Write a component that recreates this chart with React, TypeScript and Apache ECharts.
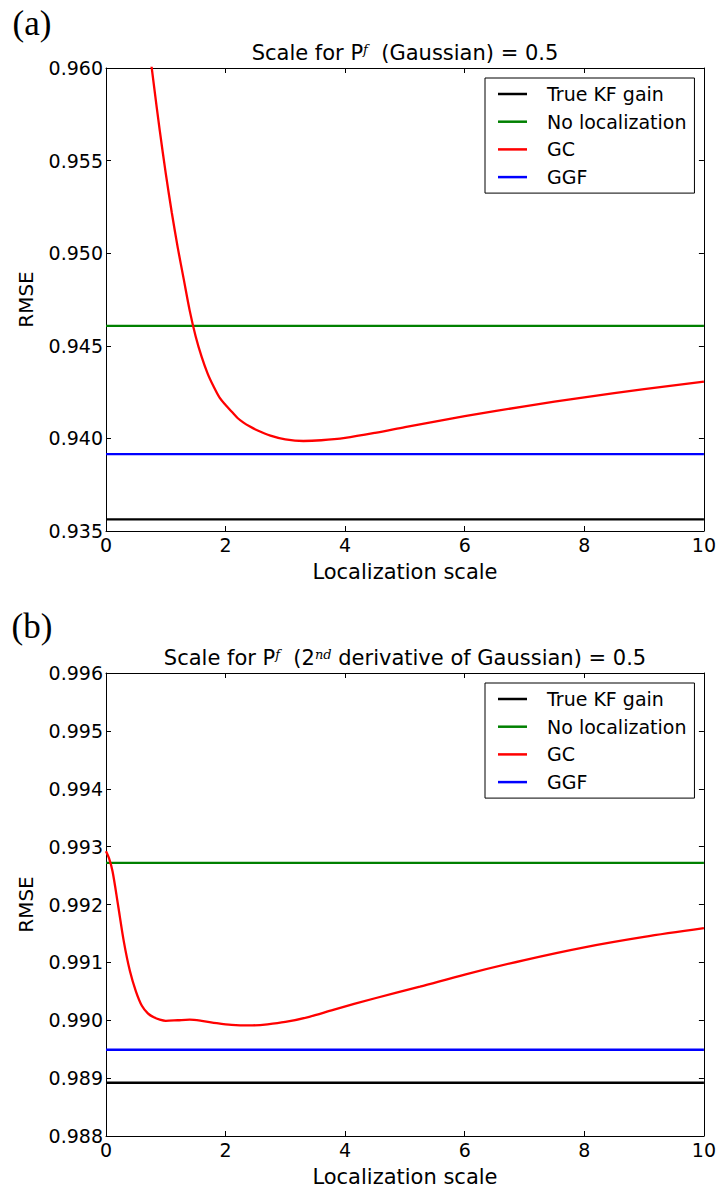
import React, { useEffect, useRef } from "react";
import * as echarts from "echarts";

// ---------- data ----------
const xMin = 0;
const xMax = 10;
const xInterval = 2;

// Panel (a): Gaussian
const aYMin = 0.935;
const aYMax = 0.96;
const aYInterval = 0.005;
const aTrueKF = 0.93563;
const aNoLoc = 0.94608;
const aGGF = 0.93915;
const aGCx = [0.5, 0.6, 0.7, 0.8, 0.9, 1.0, 1.1, 1.2, 1.3, 1.4, 1.5, 1.6, 1.7, 1.8, 1.9, 2.0, 2.1, 2.2, 2.3, 2.4, 2.5, 2.75, 3.0, 3.3, 3.6, 4.0, 4.5, 5.0, 5.5, 6.0, 7.0, 8.0, 9.0, 10.0];
const aGCy = [0.967, 0.9644, 0.9617, 0.9591, 0.9566, 0.9543, 0.9522, 0.9503, 0.9486, 0.9469, 0.9455, 0.9444, 0.9435, 0.9428, 0.9422, 0.9418, 0.94145, 0.9411, 0.94085, 0.94065, 0.94048, 0.94015, 0.93995, 0.93986, 0.9399, 0.94003, 0.9403, 0.94061, 0.94091, 0.9412, 0.94173, 0.94222, 0.94266, 0.94306];

// Panel (b): 2nd derivative of Gaussian
const bYMin = 0.988;
const bYMax = 0.996;
const bYInterval = 0.001;
const bTrueKF = 0.98892;
const bNoLoc = 0.99272;
const bGGF = 0.98949;
const bGCx = [0, 0.05, 0.11, 0.2, 0.3, 0.4, 0.5, 0.6, 0.7, 0.8, 0.9, 1.0, 1.2, 1.4, 1.6, 1.85, 2.1, 2.4, 2.7, 3.0, 3.4, 3.8, 4.5, 5.25, 6.0, 7.0, 8.0, 9.0, 10.0];
const bGCy = [0.99292, 0.9928, 0.99257, 0.992, 0.99135, 0.99085, 0.9905, 0.99025, 0.99012, 0.99005, 0.99001, 0.98999, 0.99, 0.99001, 0.98999, 0.98995, 0.98992, 0.98991, 0.98993, 0.98997, 0.99006, 0.99018, 0.99038, 0.99058, 0.99079, 0.99104, 0.99126, 0.99144, 0.99159];

const seriesNames = ["True KF gain", "No localization", "GC", "GGF"];
const seriesColors = ["#000000", "#008000", "#ff0000", "#0000ff"];

const FONT = "DejaVu Sans";

function zip(xs: number[], ys: number[]) {
  return xs.map((x, i) => [x, ys[i]]);
}

export default function App() {
  const ref = useRef<HTMLDivElement>(null);

  useEffect(() => {
    if (!ref.current) return;
    const chart = echarts.init(ref.current, undefined, { renderer: "svg" });

    const grids = [
      { left: 106, top: 68, width: 598, height: 463 },
      { left: 106, top: 673, width: 598, height: 463 },
    ];

    const xAxes: any[] = [];
    const yAxes: any[] = [];
    const yRanges = [
      [aYMin, aYMax, aYInterval],
      [bYMin, bYMax, bYInterval],
    ];
    const axisLine = { show: true, onZero: false, lineStyle: { color: "#000", width: 1 } };
    const tick = { show: true, inside: true, length: 5, lineStyle: { color: "#000", width: 1 } };
    [0, 1].forEach((g) => {
      xAxes.push({
        type: "value", gridIndex: g, position: "bottom", min: xMin, max: xMax, interval: xInterval,
        axisLine, axisTick: tick, splitLine: { show: false },
        axisLabel: { color: "#000", fontSize: 19, fontFamily: FONT, margin: 4 },
        name: "Localization scale", nameLocation: "middle", nameGap: 30,
        nameTextStyle: { color: "#000", fontSize: 21, fontFamily: FONT },
      });
      xAxes.push({
        type: "value", gridIndex: g, position: "top", min: xMin, max: xMax, interval: xInterval,
        axisLine, axisTick: tick, splitLine: { show: false }, axisLabel: { show: false },
      });
      const [mn, mx, iv] = yRanges[g];
      yAxes.push({
        type: "value", gridIndex: g, position: "left", min: mn, max: mx, interval: iv,
        axisLine, axisTick: tick, splitLine: { show: false },
        axisLabel: { color: "#000", fontSize: 19, fontFamily: FONT, margin: 3, formatter: (v: number) => v.toFixed(3) },
        name: "RMSE", nameLocation: "middle", nameGap: 70,
        nameTextStyle: { color: "#000", fontSize: 20, fontFamily: FONT },
      });
      yAxes.push({
        type: "value", gridIndex: g, position: "right", min: mn, max: mx, interval: iv,
        axisLine, axisTick: tick, splitLine: { show: false }, axisLabel: { show: false },
      });
    });

    const hline = (name: string, color: string, v: number, g: number) => ({
      name, type: "line", xAxisIndex: g * 2, yAxisIndex: g * 2,
      data: [[xMin, v], [xMax, v]], symbol: "none", lineStyle: { color, width: 2.3 }, itemStyle: { color },
    });
    const gcLine = (data: number[][], g: number) => ({
      name: "GC", type: "line", xAxisIndex: g * 2, yAxisIndex: g * 2, data, smooth: 0.3,
      symbol: "none", clip: true, lineStyle: { color: "#ff0000", width: 2.3 }, itemStyle: { color: "#ff0000" },
    });

    const series: any[] = [
      hline(seriesNames[0], seriesColors[0], aTrueKF, 0),
      hline(seriesNames[1], seriesColors[1], aNoLoc, 0),
      gcLine(zip(aGCx, aGCy), 0),
      hline(seriesNames[3], seriesColors[3], aGGF, 0),
      hline(seriesNames[0], seriesColors[0], bTrueKF, 1),
      hline(seriesNames[1], seriesColors[1], bNoLoc, 1),
      gcLine(zip(bGCx, bGCy), 1),
      hline(seriesNames[3], seriesColors[3], bGGF, 1),
    ];

    const legendBase = {
      orient: "vertical", left: 485, icon: "rect", itemWidth: 29, itemHeight: 2.5, itemGap: 7.7,
      borderColor: "#000", borderWidth: 1, borderRadius: 0, padding: [6, 8, 6, 13],
      backgroundColor: "#fff",
      textStyle: { color: "#000", fontSize: 19, fontFamily: FONT, lineHeight: 20, padding: [0, 0, 0, 15] },
      data: seriesNames, selectedMode: false,
    };

    const richTitle = {
      a: { fontSize: 21, fontFamily: FONT, color: "#000" },
      s: { fontSize: 13, fontFamily: "DejaVu Serif", fontStyle: "italic", color: "#000", verticalAlign: "top" },
    };

    chart.setOption({
      animation: false,
      backgroundColor: "#fff",
      grid: grids,
      xAxis: xAxes,
      yAxis: yAxes,
      legend: [
        { ...legendBase, top: 78 },
        { ...legendBase, top: 683 },
      ],
      series,
      graphic: [
        { type: "text", x: 32, y: 23, style: { text: "(a)", font: "35px 'Liberation Serif'", fill: "#000", align: "center", verticalAlign: "middle" } },
        { type: "text", x: 32, y: 626, style: { text: "(b)", font: "35px 'Liberation Serif'", fill: "#000", align: "center", verticalAlign: "middle" } },
        { type: "text", x: 405, y: 53, style: { text: "{a|Scale for P}{s|f}{a|  (Gaussian) = 0.5}", rich: richTitle, align: "center", verticalAlign: "middle" } },
        { type: "text", x: 405, y: 658, style: { text: "{a|Scale for P}{s|f}{a|  (2}{s|nd}{a| derivative of Gaussian) = 0.5}", rich: richTitle, align: "center", verticalAlign: "middle" } },
      ],
    });

    return () => chart.dispose();
  }, []);

  return <div ref={ref} style={{ position: "absolute", left: 0, top: 0, width: 719, height: 1191 }} />;
}
